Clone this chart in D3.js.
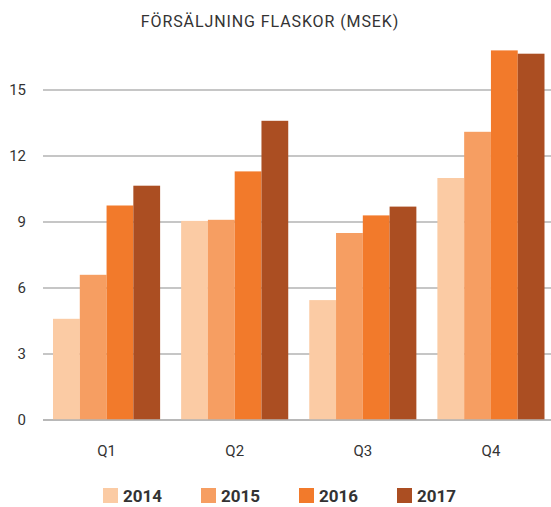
<!DOCTYPE html>
<html>
<head>
<meta charset="utf-8">
<script src="https://cdn.jsdelivr.net/npm/d3@7"></script>
<style>
  body { margin: 0; background: #fff; }
  text { font-family: Roboto, "DejaVu Sans", sans-serif; fill: #333; }
</style>
</head>
<body>
<div id="chart"></div>
<script>
const quarters = ["Q1", "Q2", "Q3", "Q4"];
const years = ["2014", "2015", "2016", "2017"];
const sales2014 = [4.6, 9.05, 5.45, 11.0];
const sales2015 = [6.6, 9.1, 8.5, 13.1];
const sales2016 = [9.75, 11.3, 9.3, 16.8];
const sales2017 = [10.65, 13.6, 9.7, 16.65];
const yTicks = [0, 3, 6, 9, 12, 15];
const colors = ["#fbcba4", "#f69e62", "#f27a2b", "#ab4e22"];

const series = [sales2014, sales2015, sales2016, sales2017];
const rows = quarters.map((q, i) => ({
  quarter: q,
  values: years.map((y, j) => ({ year: y, value: series[j][i] }))
}));

const width = 551, height = 507;

const svg = d3.select("#chart").append("svg")
  .attr("width", width)
  .attr("height", height);

const x0 = d3.scaleBand()
  .domain(quarters)
  .range([42.5, 555])
  .paddingInner(0.164)
  .paddingOuter(0.082);

const x1 = d3.scaleBand()
  .domain(years)
  .range([0, x0.bandwidth()]);

const y = d3.scaleLinear()
  .domain([0, 15])
  .range([420, 90]);

const color = d3.scaleOrdinal().domain(years).range(colors);

// grid
svg.append("g")
  .selectAll("line")
  .data(yTicks)
  .join("line")
  .attr("x1", 43)
  .attr("x2", width)
  .attr("y1", d => y(d))
  .attr("y2", d => y(d))
  .attr("stroke", "#b3b3b3")
  .attr("stroke-width", 1.5);

// y labels
svg.append("g")
  .selectAll("text")
  .data(yTicks)
  .join("text")
  .attr("x", 26)
  .attr("y", d => y(d))
  .attr("dy", "0.35em")
  .attr("text-anchor", "end")
  .style("font-size", "15px")
  .text(d => d);

// bars
svg.append("g")
  .selectAll("g")
  .data(rows)
  .join("g")
  .attr("transform", d => `translate(${x0(d.quarter)},0)`)
  .selectAll("rect")
  .data(d => d.values)
  .join("rect")
  .attr("x", d => x1(d.year))
  .attr("y", d => y(d.value))
  .attr("width", x1.bandwidth())
  .attr("height", d => y(0) - y(d.value))
  .attr("fill", d => color(d.year));

// baseline on top of bars
svg.append("line")
  .attr("x1", 43).attr("x2", width)
  .attr("y1", y(0)).attr("y2", y(0))
  .attr("stroke", "#b3b3b3")
  .attr("stroke-width", 1.5);

// x labels
svg.append("g")
  .selectAll("text")
  .data(quarters)
  .join("text")
  .attr("x", d => x0(d) + x0.bandwidth() / 2)
  .attr("y", 456)
  .attr("text-anchor", "middle")
  .style("font-size", "15px")
  .text(d => d);

// title
svg.append("text")
  .attr("x", 270)
  .attr("y", 27)
  .attr("text-anchor", "middle")
  .style("font-size", "16px")
  .style("letter-spacing", "0.9px")
  .text("FÖRSÄLJNING FLASKOR (MSEK)");

// legend
const legend = svg.append("g")
  .selectAll("g")
  .data(years)
  .join("g")
  .attr("transform", (d, i) => `translate(${103 + i * 98},488)`);

legend.append("rect")
  .attr("width", 15)
  .attr("height", 15)
  .attr("fill", d => color(d));

legend.append("text")
  .attr("x", 20)
  .attr("y", 14)
  .style("font-size", "17px")
  .style("font-weight", "bold")
  .text(d => d);
</script>
</body>
</html>
